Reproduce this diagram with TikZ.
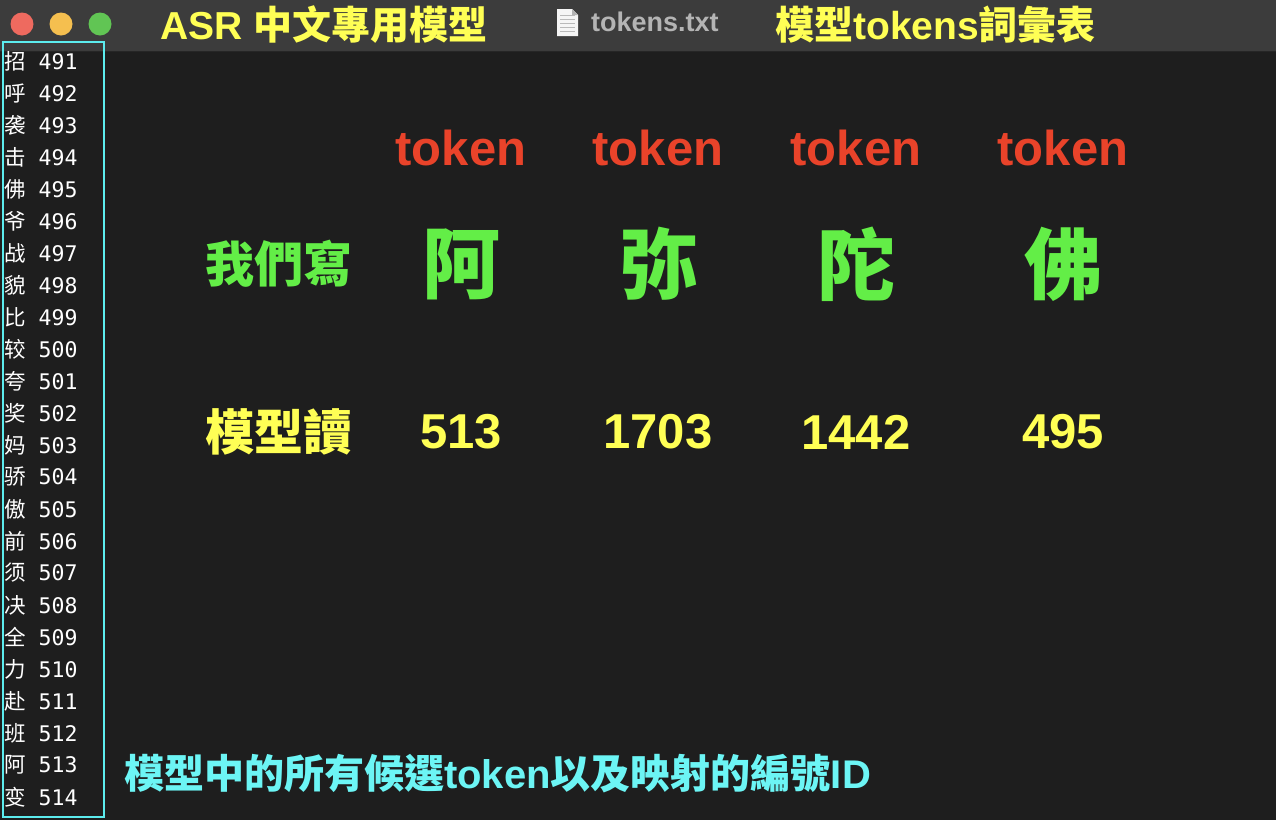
\documentclass[tikz,border=0pt]{standalone}
\usepackage{fontspec}
\setmainfont{Liberation Sans}
\setmonofont{DejaVu Sans Mono}
\newfontfamily\cjk{Noto Sans CJK TC}
\newfontfamily\cjksc{Noto Sans CJK SC}
\newcommand\zh[1]{{\cjk #1}}

\definecolor{winbg}{HTML}{1E1E1E}
\definecolor{barbg}{HTML}{3C3C3C}
\definecolor{lightred}{HTML}{EE6A5F}
\definecolor{lightyellow}{HTML}{F5BF4F}
\definecolor{lightgreen}{HTML}{61C554}
\definecolor{titleyellow}{HTML}{FFFF55}
\definecolor{filegray}{HTML}{B4B4B4}
\definecolor{tokred}{HTML}{E9432A}
\definecolor{chgreen}{HTML}{63EE47}
\definecolor{numyellow}{HTML}{FFFF55}
\definecolor{boxcyan}{HTML}{5CECEE}
\definecolor{capcyan}{HTML}{6CF5F5}

\begin{document}
\begin{tikzpicture}[x=1pt,y=-1pt,
    titletxt/.style={text=titleyellow,font=\fontsize{39}{44}\selectfont\bfseries,inner sep=0pt},
    tokenlbl/.style={text=tokred,font=\fontsize{49}{56}\selectfont\bfseries,inner sep=0pt},
    bigchar/.style={text=chgreen,font=\fontsize{78}{86}\selectfont\cjk\bfseries,inner sep=0pt},
    tokid/.style={text=numyellow,font=\fontsize{49}{56}\selectfont\bfseries,inner sep=0pt},
    rowlbl/.style={font=\fontsize{49}{56}\selectfont\cjk\bfseries,inner sep=0pt},
    listrow/.style={text=white,font=\fontsize{21.5}{24}\selectfont,anchor=west,inner sep=0pt}]
    \useasboundingbox (0,0) rectangle (1276,820);
    \fill[winbg] (0,0) rectangle (1276,820);

    % title bar
    \fill[barbg] (0,0) rectangle (1276,51);
    \draw[black!85,line width=1.5pt] (0,51.5) -- (1276,51.5);
    \fill[lightred] (22,24) circle (11.5);
    \fill[lightyellow] (61,24) circle (11.5);
    \fill[lightgreen] (100,24) circle (11.5);
    \node[titletxt,anchor=west] (title) at (160,25) {ASR \zh{中文專用模型}};
    \fill[white!92!gray] (557,9) -- (572,9) -- (578,15) -- (578,36) -- (557,36) -- cycle;
    \fill[gray!60] (572,9) -- (572,15) -- (578,15) -- cycle;
    \foreach \yy in {15,19,23,27,31}
        \draw[gray!55,line width=1pt] (560,\yy) -- (575,\yy);
    \node[anchor=west,text=filegray,font=\fontsize{27}{32}\selectfont\bfseries,inner sep=0pt] (fname) at (591,22) {tokens.txt};
    \node[titletxt,anchor=west] (vocab) at (775,25) {\zh{模型}tokens\zh{詞彙表}};

    % token list
    \foreach \ch [count=\n from 491] in {招,呼,袭,击,佛,爷,战,貌,比,较,夸,奖,妈,骄,傲,前,须,决,全,力,赴,班,阿,变}
        \node[listrow] (row\n) at (4,{61+32*(\n-491)}) {{\cjksc\ch}{\ttfamily\ \n}};
    \draw[boxcyan,line width=2.5pt] (3,42) rectangle (104,817);

    % rows
    \node[rowlbl,text=chgreen] (write) at (279,264) {我們寫};
    \node[rowlbl,text=numyellow] (read) at (279,432) {模型讀};
    \foreach \x/\c/\v [count=\k] in {461/阿/513,658/弥/1703,856/陀/1442,1063/佛/495} {
        \node[tokenlbl] (tok\k) at (\x,148) {token};
        \node[bigchar] (char\k) at (\x,264) {\c};
        \node[tokid] (id\k) at (\x,432) {\v};
    }

    \node[anchor=west,text=capcyan,font=\fontsize{40}{46}\selectfont\bfseries,inner sep=0pt] (caption) at (124,774)
        {\zh{模型中的所有候選}token\zh{以及映射的編號}ID};
\end{tikzpicture}
\end{document}
